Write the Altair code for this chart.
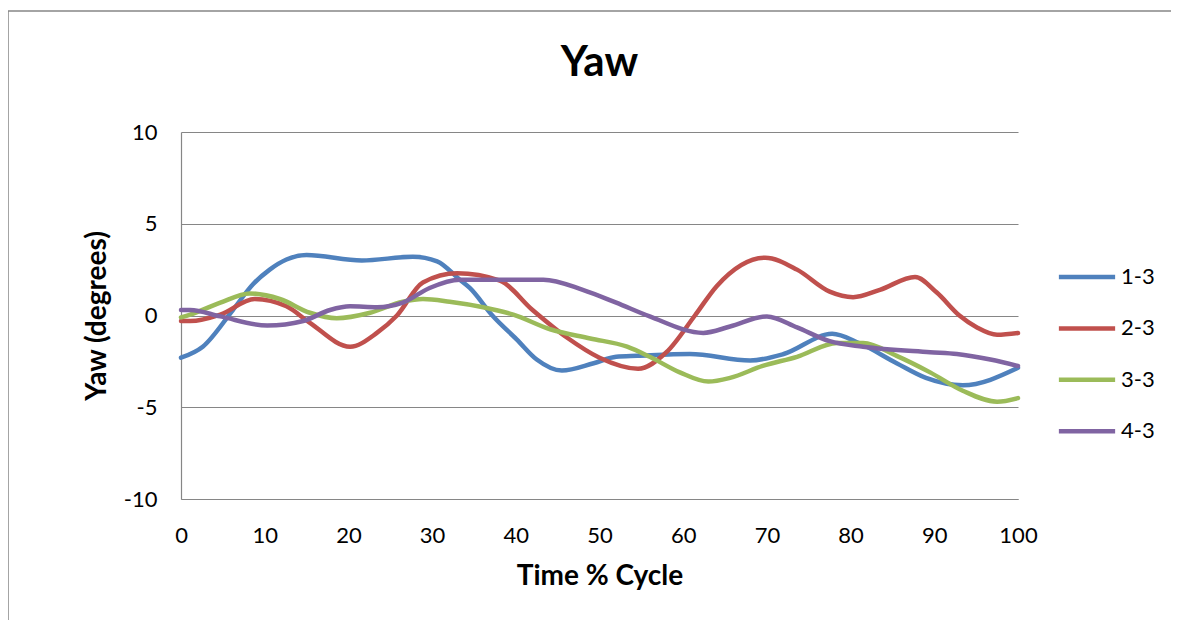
import altair as alt
import pandas as pd

# ---- data ----
series_names = ["1-3", "2-3", "3-3", "4-3"]
series_colors = ["#4F81BD", "#C0504D", "#9BBB59", "#8064A2"]

x_13 = [0, 2.6, 6.2, 8.6, 10.6, 12.6, 15, 21.6, 27.7, 30.6, 33.3, 34.5, 37.2, 40.1, 42.5, 45.5,
        49.3, 52, 54.5, 60.8, 68, 72, 77.8, 81, 85.5, 89, 93.4, 100]
y_13 = [-2.3, -1.7, 0.3, 1.7, 2.5, 3.05, 3.3, 3.0, 3.2, 2.95, 1.95, 1.5, 0.0, -1.3, -2.4, -3.0,
        -2.6, -2.25, -2.2, -2.1, -2.45, -2.1, -1.0, -1.5, -2.6, -3.4, -3.8, -2.85]

x_23 = [0, 1.1, 4.7, 8.8, 12.6, 15.4, 20.2, 23.4, 25.8, 28.9, 33, 38.1, 42, 46.1, 50, 54.6,
        58, 61.4, 64, 69.8, 73.6, 77.5, 80.3, 83.5, 87.7, 90.3, 93, 95.1, 97.5, 100]
y_23 = [-0.3, -0.3, 0.05, 0.9, 0.5, -0.4, -1.7, -0.95, 0.0, 1.8, 2.3, 1.9, 0.3, -1.2, -2.3, -2.9,
        -2.0, 0.0, 1.6, 3.15, 2.5, 1.3, 1.0, 1.4, 2.1, 1.25, 0.0, -0.65, -1.05, -0.95]

x_33 = [0, 1.1, 4.7, 8.2, 11.8, 15.4, 18.6, 22.6, 26.5, 28.9, 32.1, 36.1, 39.7, 44.1, 48.9, 53.3,
        56, 59.6, 63, 65.6, 69.5, 73.6, 78.4, 81.5, 85.5, 89.5, 93.4, 97.5, 100]
y_33 = [-0.1, 0.05, 0.7, 1.2, 0.9, 0.15, -0.15, 0.15, 0.75, 0.9, 0.75, 0.45, 0.05, -0.75, -1.25, -1.7,
        -2.25, -3.1, -3.6, -3.4, -2.75, -2.25, -1.5, -1.5, -2.2, -3.1, -4.1, -4.7, -4.5]

x_43 = [0, 1.1, 4.7, 10.3, 14.6, 17.8, 20.2, 23.4, 26.5, 29.7, 33.3, 36.1, 43.3, 48, 52, 56,
        62.4, 65.6, 70, 73.6, 77.5, 81.5, 89.5, 92.7, 96.7, 100]
y_43 = [0.3, 0.3, -0.05, -0.55, -0.3, 0.3, 0.5, 0.45, 0.7, 1.5, 1.95, 1.95, 1.95, 1.4, 0.7, -0.05,
        -0.95, -0.6, -0.05, -0.65, -1.4, -1.7, -2.0, -2.1, -2.4, -2.75]

x_ticks = [0, 10, 20, 30, 40, 50, 60, 70, 80, 90, 100]
y_ticks = [-10, -5, 0, 5, 10]

rows = []
for name, xs, ys in zip(series_names, [x_13, x_23, x_33, x_43], [y_13, y_23, y_33, y_43]):
    for a, b in zip(xs, ys):
        rows.append({"series": name, "x": a, "y": b})
df = pd.DataFrame(rows)

FONT = "Lato"
GREY = "#868686"

lines = alt.Chart(df).mark_line(
    strokeWidth=4.5, interpolate="monotone", strokeCap="round", strokeJoin="round"
).encode(
    x=alt.X("x:Q",
            scale=alt.Scale(domain=[0, 100], nice=False, zero=False),
            axis=alt.Axis(values=x_ticks, title="Time % Cycle", grid=False,
                          labelPadding=26, titlePadding=16, labelFlush=False,
                          labelOverlap=False, labelExpr="'' + datum.value")),
    y=alt.Y("y:Q",
            scale=alt.Scale(domain=[-10, 10], nice=False),
            axis=alt.Axis(values=y_ticks, title="Yaw (degrees)", grid=True,
                          labelPadding=24, titlePadding=12, labelFlush=False,
                          labelOverlap=False, labelExpr="'' + datum.value")),
    color=alt.Color("series:N",
                    scale=alt.Scale(domain=series_names, range=series_colors),
                    legend=alt.Legend(orient="none", legendX=881, legendY=120,
                                      title=None, symbolType="M-1.25,0H1.25",
                                      symbolSize=2025, symbolStrokeWidth=4.5,
                                      labelFontSize=22, labelFont=FONT, labelColor="black",
                                      labelOffset=9, rowPadding=15.4, padding=0)),
)

border = alt.Chart(alt.Data(values=[{}])).mark_rule(color=GREY, strokeWidth=1.5).encode(
    x=alt.value(-173), x2=alt.value(1000), y=alt.value(-121)
)
border_left = alt.Chart(alt.Data(values=[{}])).mark_rule(color=GREY, strokeWidth=1.5).encode(
    x=alt.value(-173), y=alt.value(-121), y2=alt.value(600)
)

chart = alt.layer(border, border_left, lines).properties(
    width=837, height=367,
    padding={"left": 173, "top": 124, "right": 153, "bottom": 121},
    autosize=alt.AutoSizeParams(type="none"),
    title=alt.TitleParams("Yaw", fontSize=42, font=FONT, fontWeight="bold",
                          anchor="middle", frame="group", offset=-75, color="black"),
).configure_view(stroke=None).configure_axis(
    domainColor=GREY, domainWidth=1.2, gridColor=GREY, gridWidth=1.2,
    ticks=False, labelFont=FONT, labelFontSize=22, labelColor="black",
    titleFont=FONT, titleFontSize=28, titleFontWeight="bold", titleColor="black",
)

chart.save("out.html", embed_options={"renderer": "svg", "actions": False})
